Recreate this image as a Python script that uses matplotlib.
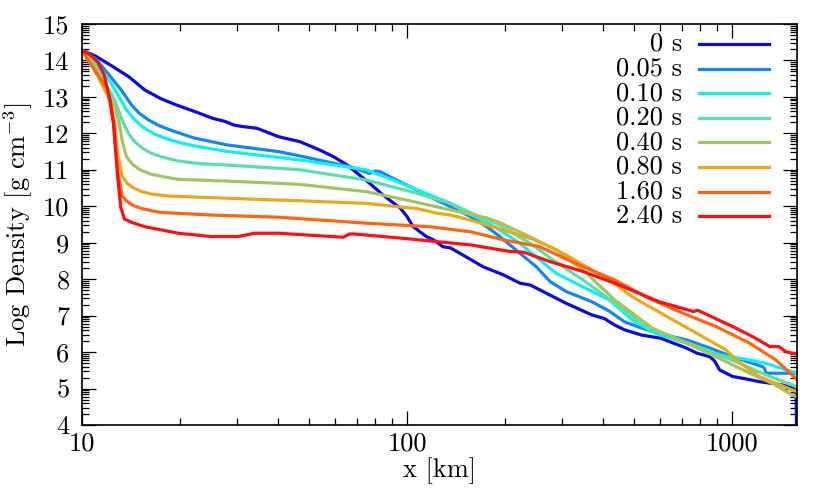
import numpy as np
import matplotlib
matplotlib.use('Agg')
import matplotlib.pyplot as plt

plt.rcParams['font.family'] = ['cmr10', 'DejaVu Serif']
plt.rcParams['mathtext.fontset'] = 'cm'
plt.rcParams['axes.formatter.use_mathtext'] = True

# profili di densita (log10 rho), x in km
x_0 = [10, 11, 12.2, 13.9, 15.6, 17.5, 19.5, 22.2, 25.3, 27.5, 29.3, 31, 34.5, 37.9, 40.2, 46.9, 54, 59.4,
       65, 71.6, 77, 82.6, 89, 95.3, 100, 104.5, 114.6, 120.7, 129, 136, 148.8, 171.5, 197.8, 222.7, 239.6,
       262.4, 308.5, 370.6, 405, 435.9, 467.4, 525, 604, 663, 720, 781, 857, 885, 916, 1005, 1110, 1213,
       1428, 1534, 1575, 1580]
y_0 = [14.28, 14.12, 13.88, 13.56, 13.19, 12.95, 12.78, 12.6, 12.41, 12.33, 12.23, 12.19, 12.14, 12.0, 11.91,
       11.77, 11.54, 11.36, 11.15, 10.85, 10.62, 10.38, 10.15, 9.95, 9.72, 9.44, 9.17, 9.08, 8.89, 8.86, 8.66,
       8.34, 8.12, 7.89, 7.84, 7.66, 7.34, 7.02, 6.92, 6.74, 6.61, 6.47, 6.38, 6.24, 6.12, 5.97, 5.87, 5.75,
       5.51, 5.33, 5.26, 5.19, 5.10, 5.01, 4.95, 3.9]

x_005 = [10, 11, 12.0, 13.2, 14.2, 15.0, 16.0, 17.2, 18.6, 20.5, 22.2, 28.1, 40.2, 46.9, 58, 66.6, 76.9, 80,
         82.6, 90, 102, 120, 136, 156.7, 176, 193, 212.6, 222.7, 250, 276, 309, 371, 420, 467, 530, 597, 727,
         850, 1005, 1243, 1260, 1273, 1534, 1580]
y_005 = [14.28, 14.05, 13.65, 13.19, 12.78, 12.55, 12.37, 12.22, 12.1, 11.97, 11.87, 11.68, 11.5, 11.38,
         11.2, 11.09, 10.9, 10.97, 10.95, 10.78, 10.54, 10.22, 9.99, 9.72, 9.44, 9.17, 8.86, 8.71, 8.34, 7.93,
         7.66, 7.38, 7.12, 6.83, 6.65, 6.51, 6.33, 6.12, 5.87, 5.6, 5.55, 5.42, 5.42, 5.42]

x_010 = [10, 11, 12.3, 13.0, 13.7, 14.5, 15.5, 16.8, 18.5, 20.5, 23, 28.1, 40.2, 46.9, 75, 102, 136, 176,
         193, 222.7, 256, 288, 348, 419, 493, 583, 727, 916, 1110, 1273, 1534, 1580]
y_010 = [14.28, 13.95, 13.37, 13.0, 12.65, 12.38, 12.15, 11.97, 11.83, 11.72, 11.63, 11.5, 11.34, 11.27,
         11.0, 10.54, 10.08, 9.55, 9.35, 8.98, 8.53, 8.16, 7.79, 7.43, 6.88, 6.51, 6.24, 5.92, 5.80, 5.69,
         5.46, 5.43]

x_020 = [10, 11, 12.6, 13.3, 13.9, 14.5, 15.3, 16.3, 17.5, 19.8, 23, 28.1, 40.2, 46.9, 75, 107, 136, 176,
         193, 222.7, 240, 281, 348, 436, 525, 651, 835, 1059, 1273, 1534, 1580]
y_020 = [14.28, 13.85, 12.92, 12.35, 12.0, 11.78, 11.6, 11.46, 11.36, 11.24, 11.17, 11.13, 11.04, 11.0,
         10.72, 10.36, 10.08, 9.62, 9.49, 9.15, 8.98, 8.53, 7.98, 7.34, 6.79, 6.42, 6.06, 5.69, 5.37, 5.10,
         5.05]

x_040 = [10, 11, 12.6, 13.0, 13.3, 13.7, 14.3, 15.1, 16.3, 18.3, 19.8, 28.1, 40.2, 46.9, 75, 99.8, 136,
         176, 193, 234, 288, 348, 436, 570, 727, 894, 1135, 1334, 1534, 1580]
y_040 = [14.28, 13.8, 12.73, 12.3, 11.8, 11.36, 11.15, 11.0, 10.88, 10.79, 10.74, 10.69, 10.63, 10.6, 10.4,
         10.17, 9.9, 9.68, 9.55, 9.2, 8.8, 8.25, 7.43, 6.65, 6.24, 5.87, 5.42, 5.14, 4.82, 4.78]

x_080 = [10, 11, 12.2, 12.6, 12.9, 13.3, 13.8, 14.4, 15.3, 16.5, 18.5, 28.1, 40.2, 46.9, 75, 93, 107,
         123.6, 136, 156.7, 197.8, 240, 276, 309, 371, 419, 493, 618, 781, 958, 1031, 1213, 1534, 1580]
y_080 = [14.28, 13.7, 12.9, 12.3, 11.4, 10.82, 10.62, 10.5, 10.4, 10.33, 10.28, 10.22, 10.17, 10.15,
         10.08, 9.99, 9.94, 9.81, 9.76, 9.62, 9.35, 9.12, 8.89, 8.66, 8.25, 7.98, 7.52, 7.02, 6.51, 6.06,
         5.78, 5.33, 4.96, 4.92]

x_160 = [10, 11, 12.0, 12.5, 12.9, 13.3, 13.7, 14.3, 15.1, 16.3, 17.5, 24.9, 40.2, 76.9, 117.5, 156.7,
         197.8, 240, 256, 348, 436, 556, 709, 894, 1135, 1366, 1534, 1580]
y_160 = [14.28, 13.7, 13.19, 12.27, 10.9, 10.28, 10.15, 10.03, 9.95, 9.88, 9.83, 9.76, 9.7, 9.53, 9.44,
         9.30, 9.08, 8.94, 8.89, 8.34, 7.98, 7.47, 7.06, 6.70, 6.24, 5.78, 5.37, 5.25]

x_240 = [10, 10.6, 11.2, 11.7, 12.2, 12.5, 12.85, 13.15, 13.5, 14.3, 15.6, 19.8, 24.9, 30.2, 34, 40.2,
         63.7, 66.5, 68.6, 97.5, 123.6, 156.7, 207.7, 228.5, 276, 348, 436, 597, 764, 783, 1005, 1160,
         1308, 1394, 1465, 1534, 1580]
y_240 = [14.28, 14.15, 13.95, 13.6, 12.92, 12.28, 10.9, 9.99, 9.65, 9.55, 9.44, 9.26, 9.17, 9.17, 9.26,
         9.26, 9.15, 9.24, 9.24, 9.12, 9.03, 8.94, 8.76, 8.74, 8.48, 8.21, 7.89, 7.38, 7.11, 7.15, 6.70,
         6.42, 6.15, 6.15, 6.01, 5.97, 5.95]

labels = ['0 s', '0.05 s', '0.10 s', '0.20 s', '0.40 s', '0.80 s', '1.60 s', '2.40 s']
colors = ['#0a0ae6', '#1488f0', '#10f0f0', '#5ae0a8', '#a4c460', '#eca81a', '#ff6410', '#ff1010']
xs = [x_0, x_005, x_010, x_020, x_040, x_080, x_160, x_240]
ys = [y_0, y_005, y_010, y_020, y_040, y_080, y_160, y_240]

fig = plt.figure(figsize=(8.3, 4.98), dpi=100)
ax = fig.add_axes([0.0988, 0.1466, 0.8614, 0.8052])

for x, y, c in zip(xs, ys, colors):
    ax.plot(x, y, color=c, lw=2.3, solid_joinstyle='round')

ax.set_xscale('log')
ax.set_xlim(10, 1585)
ax.set_ylim(4, 15)

ax.set_xticks([10, 100, 1000])
ax.set_xticklabels(['10', '100', '1000'])
ax.set_xticks([k * 10**d for d in (1, 2, 3) for k in range(2, 10) if k * 10**d < 1585], minor=True)
ax.set_yticks(range(4, 16))
ax.set_yticklabels([str(v) for v in range(4, 16)])
# tacche minori "logaritmiche" dentro ogni unita
ax.set_yticks([n + np.log10(k) for n in range(4, 15) for k in range(2, 10)], minor=True)

ax.tick_params(which='both', direction='in', top=True, right=True, labelsize=19)
ax.tick_params(which='major', length=10, width=0.9)
ax.tick_params(which='minor', length=5, width=0.9)
ax.tick_params(axis='y', pad=9)
ax.tick_params(axis='x', pad=5)
for s in ax.spines.values():
    s.set_linewidth(1.2)

ax.set_xlabel('x [km]', fontsize=19, labelpad=1)
ax.set_ylabel(r'Log Density [g cm$^{-3}$]', fontsize=19, labelpad=6)

# legenda: etichette allineate a destra, linea a fianco
for i, (lab, c) in enumerate(zip(labels, colors)):
    yy = 0.950 - i * 0.0613
    ax.text(0.839, yy, lab, transform=ax.transAxes, ha='right', va='center', fontsize=19)
    ax.plot([0.863, 0.961], [yy, yy], transform=ax.transAxes, color=c, lw=2.3)

fig.savefig('out.png', dpi=100)
